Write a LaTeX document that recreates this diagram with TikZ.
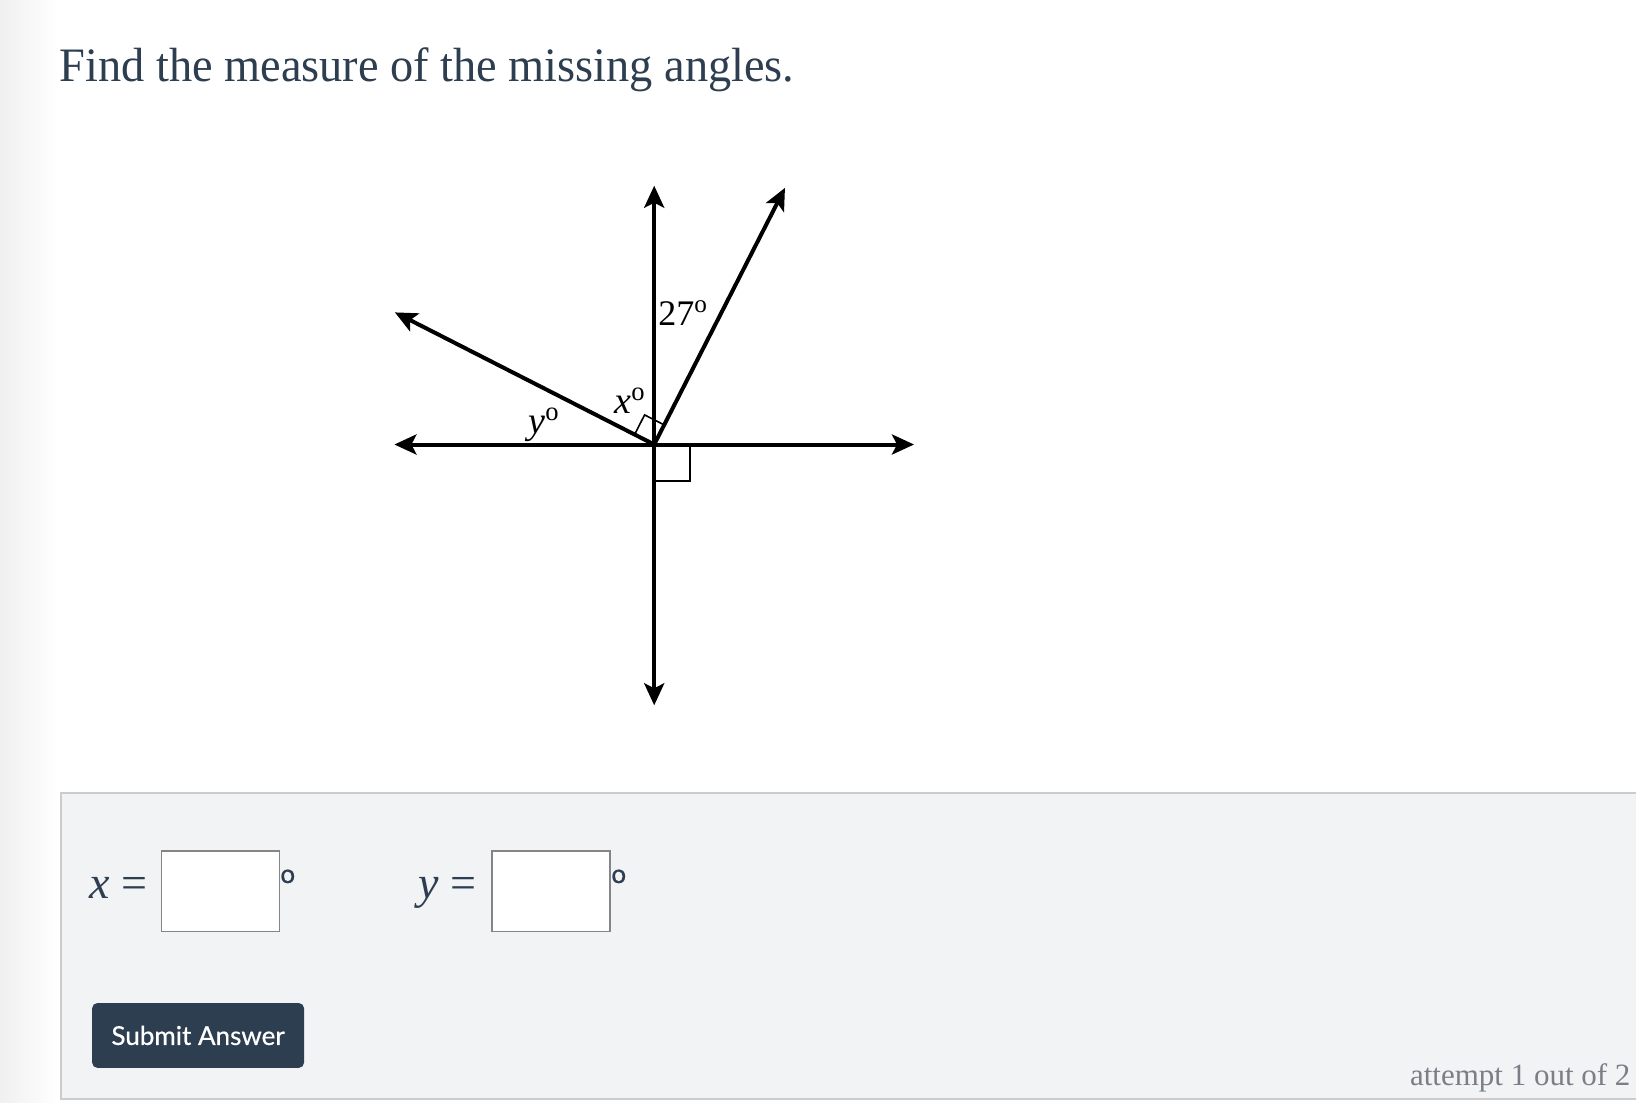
\documentclass[tikz,border=0pt]{standalone}
\usepackage{fontspec}
\setmainfont{Liberation Serif}
\newfontfamily\latofont{Lato}
\newfontfamily\latomed[FakeBold=0.6]{Lato}
\usetikzlibrary{arrows.meta,calc}
\definecolor{ink}{HTML}{2D3E50}
\definecolor{panelfill}{HTML}{F2F3F5}
\definecolor{panelline}{HTML}{CCCCCC}
\definecolor{boxline}{HTML}{858585}
\definecolor{faint}{HTML}{7A7F87}
\tikzset{
  tip/.tip={Stealth[length=11pt,width=10pt,inset=2.5pt]},
  axisline/.style={line width=2pt, black, tip-tip},
  rayline/.style={line width=2pt, black, -tip},
  rightmark/.style={line width=0.8pt, black},
  anglelabel/.style={anchor=base west, inner sep=0, font=\fontsize{19}{21}\selectfont},
  answerbox/.style={draw=boxline, line width=0.8pt, fill=white, anchor=north west, inner sep=0, minimum width=59pt, minimum height=40.2pt},
  eqlabel/.style={anchor=base west, inner sep=0, text=ink, font=\fontsize{23}{25}\selectfont},
  degsign/.style={anchor=base west, inner sep=0, text=ink, font=\latomed\fontsize{13}{15}\selectfont},
}
\begin{document}
\begin{tikzpicture}[x=0.5pt,y=-0.5pt]
\useasboundingbox (0,0) rectangle (1636,1102);
\fill[white] (0,0) rectangle (1636,1102);
\shade[left color=black!6, right color=white] (0,0) rectangle (58,1102);

% title
\node[anchor=base west, inner sep=0, text=ink, font=\fontsize{24}{30}\selectfont] (title) at (59.5,81.4) {\scalebox{0.965}[1]{Find the measure of the missing angles.}};

% diagram
\coordinate (O) at (654.2,444.5);
\coordinate (L) at (394.4,444.5);
\coordinate (R) at (914,444.5);
\coordinate (T) at (654.2,185.7);
\coordinate (B) at (654.2,705.3);
\coordinate (UR) at ($(O)+(-63:288)$);
\coordinate (UL) at ($(O)+(-153:291)$);

\draw[rightmark] (O) -- ($(O)+(-63:22)$) -- ($(O)+(-63:22)+(-153:22)$) -- ($(O)+(-153:22)$);
\draw[rightmark] ($(O)+(0,36.5)$) -- ($(O)+(35.5,36.5)$) -- ($(O)+(35.5,0)$);

\draw[axisline] (L) -- (R);
\draw[axisline] (B) -- (T);
\draw[rayline] (O) -- (UR);
\draw[rayline] (O) -- (UL);

\node[anchor=base west, inner sep=0, font=\fontsize{18}{20}\selectfont] (a27) at (658,325) {27\textsuperscript{o}};
\node[anglelabel] (ax) at (614,413) {\textit{x}\textsuperscript{o}};
\node[anglelabel] (ay) at (528,433) {\textit{y}\textsuperscript{o}};

% answer panel
\draw[fill=panelfill, draw=panelline, line width=1pt] (60.5,793) rectangle (1720,1098.7);

\node[eqlabel] (xeq) at (89,898) {\textit{x} =};
\node[answerbox] (xbox) at (160.7,850.4) {};
\node[degsign] (xdeg) at (280,883) {o};

\node[eqlabel] (yeq) at (418,898) {\textit{y} =};
\node[answerbox] (ybox) at (491.4,850.4) {};
\node[degsign] (ydeg) at (611,883) {o};

\node[fill=ink, rounded corners=2.5pt, anchor=north west, inner sep=0, minimum width=105.9pt, minimum height=32.35pt, text=white, font=\latomed\fontsize{13}{15}\selectfont] (submit) at (91.8,1002.7) {Submit Answer};

\node[anchor=base west, inner sep=0, text=faint, font=\fontsize{15.5}{18}\selectfont] (attempt) at (1409.6,1085) {attempt 1 out of 2};
\end{tikzpicture}
\end{document}
